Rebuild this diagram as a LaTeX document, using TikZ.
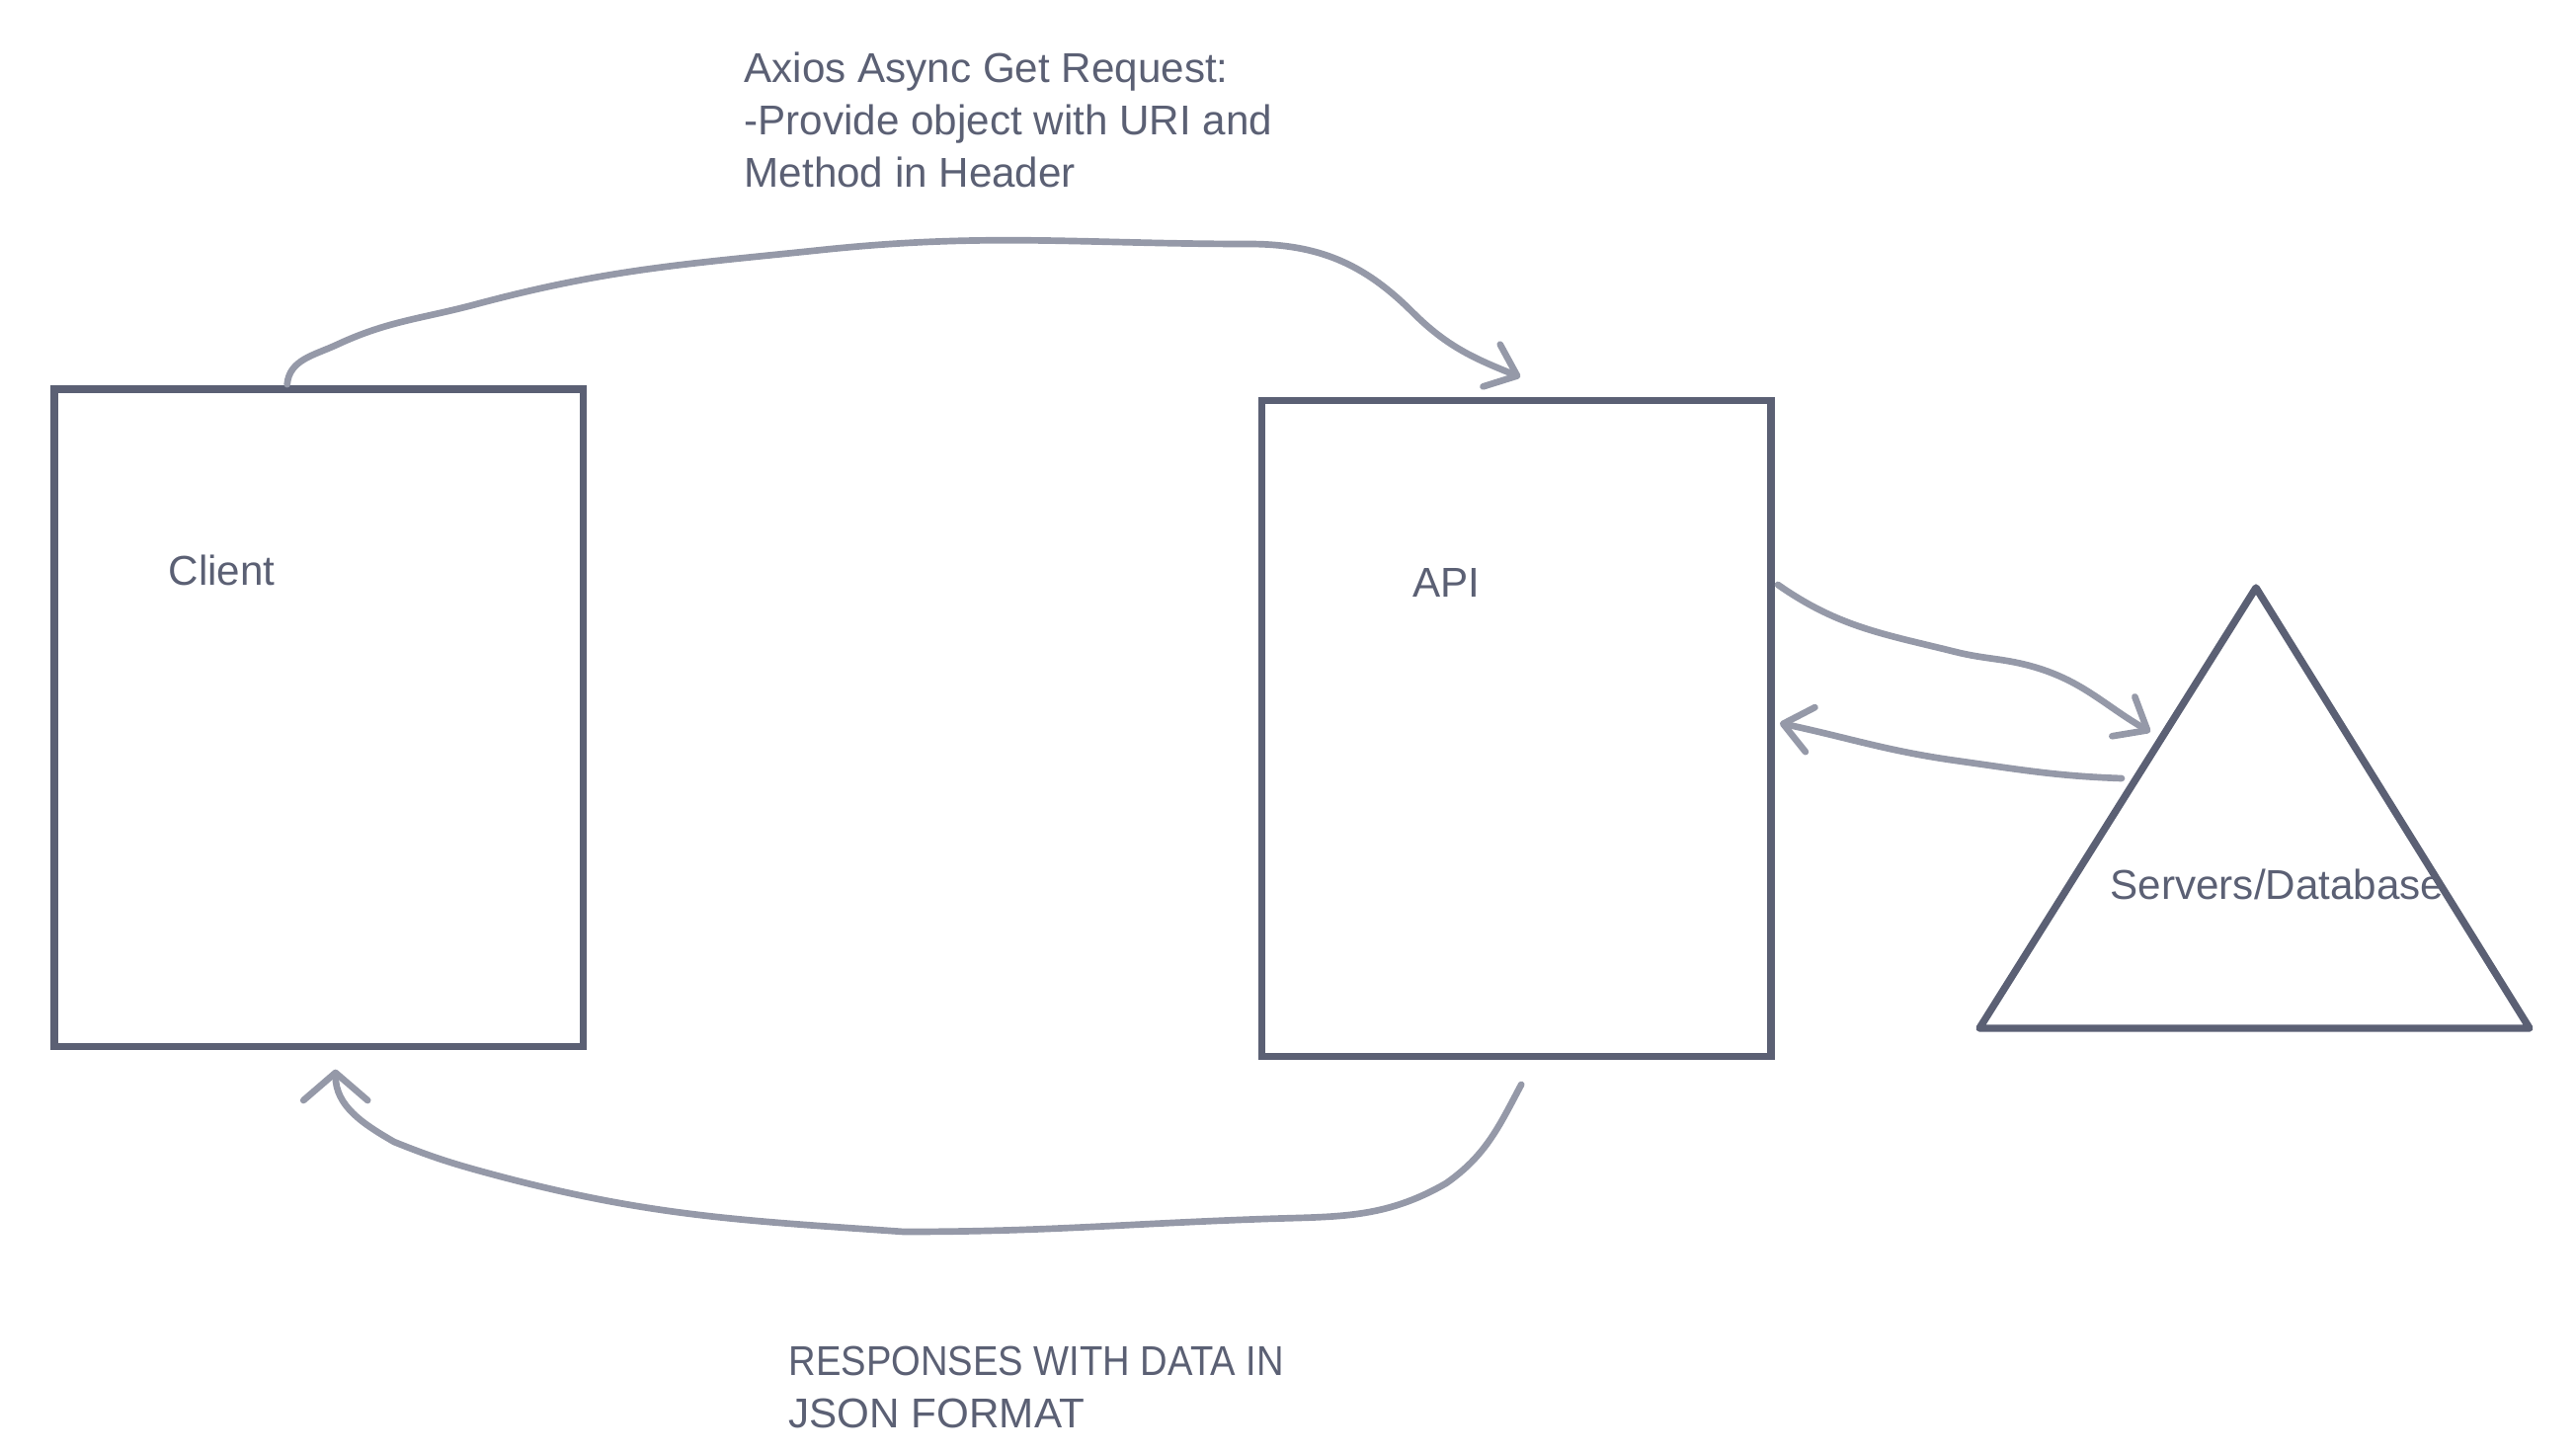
\documentclass[tikz,border=0pt]{standalone}
\usepackage{fontspec}
\setmainfont{Liberation Sans}
\newfontfamily\capsfont[FakeStretch=0.905]{Liberation Sans}
\usetikzlibrary{arrows.meta,positioning}
\definecolor{boxgray}{RGB}{91,96,116}
\definecolor{arrowgray}{RGB}{149,153,168}

\begin{document}
\begin{tikzpicture}[>={Straight Barb[length=2.8mm,width=4.6mm,round]},
	box/.style={shape=rectangle,draw=boxgray,line width=2.1pt,outer sep=0pt},
	conn/.style={->,draw=arrowgray,line width=1.9pt,line cap=round,line join=round},
	txt/.style={text=boxgray,inner sep=0pt,font=\fontsize{12}{15.1}\selectfont}]
	\useasboundingbox (0,0) rectangle (26.08,-14.72);

	\node (client) [box,minimum width=5.356cm,minimum height=6.655cm] at (3.227,-7.269) {};
	\node (api) [box,minimum width=5.156cm,minimum height=6.637cm] [right=6.869cm of client,yshift=-1.07mm] {};
	\coordinate (dbtop) at (22.84,-5.95);
	\coordinate (dbleft) at (20.04,-10.41);
	\coordinate (dbright) at (25.61,-10.41);
	\draw[draw=boxgray,line width=2.1pt,line join=round] (dbtop) -- (dbleft) -- (dbright) -- cycle;
	\coordinate (dbin) at (21.77,-7.41);
	\coordinate (dbout) at (21.48,-7.88);

	\node (clientlabel) [txt,anchor=west] at (1.70,-5.77) {Client};
	\node (apilabel) [txt,anchor=west] at (14.30,-5.90) {API};
	\node (dblabel) [txt,anchor=base west] at (21.36,-9.10) {Servers/Database};
	\node (request) [txt,anchor=north west,align=left] at (7.53,-0.52) {Axios Async Get Request:\\-Provide object with URI and\\Method in Header};
	\node (response) [txt,anchor=north west,align=left] at (7.98,-13.62) {\capsfont RESPONSES WITH DATA IN\\JSON FORMAT};

	% request from client to api
	\draw[conn] ([shift={(-0.32,0.05)}]client.north) to[out=85,in=205] (3.41,-3.49)
		to[out=25,in=195] (4.82,-3.08) to[out=15,in=186] (8.32,-2.53)
		to[out=6,in=180] (12.64,-2.47) to[out=0,in=135] (14.30,-3.16)
		to[out=-45,in=158] ([shift={(0.04,0.24)}]api.north);
	% api and database
	\draw[conn] ([shift={(0.07,1.456)}]api.east) to[out=-35,in=166] (19.80,-6.60)
		to[out=-14,in=165] (20.55,-6.74) to[out=-15,in=150] (dbin);
	\draw[conn] (dbout) to[out=178,in=-8] (19.80,-7.70) to[out=172,in=-12] ([shift={(0.09,0.055)}]api.east);
	% response back to client
	\draw[conn,>={Straight Barb[length=2.8mm,width=6.5mm,round]}] ([shift={(0.05,-0.285)}]api.south)
		to[out=-118,in=35] (14.64,-11.98) to[out=-150,in=2] (12.81,-12.34)
		to[out=182,in=0] (9.15,-12.47) to[out=176,in=-15] (4.99,-11.89)
		to[out=165,in=-22] (3.99,-11.56) to[out=150,in=-90] ([shift={(0.17,-0.23)}]client.south);
\end{tikzpicture}
\end{document}
